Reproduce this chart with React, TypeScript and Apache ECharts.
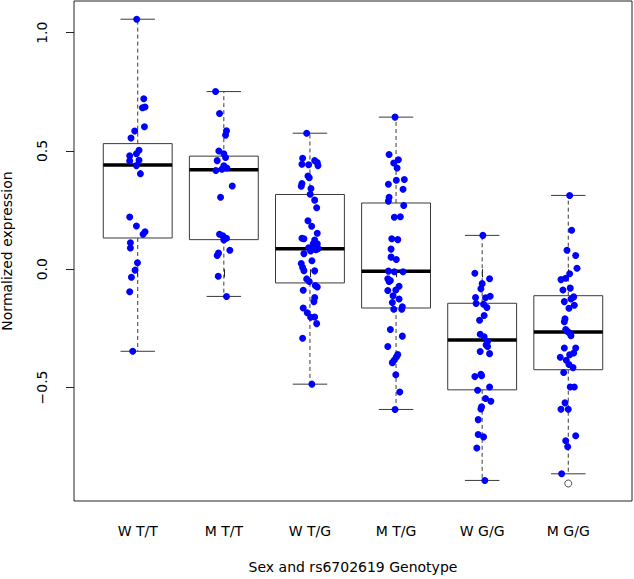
import React, { useEffect, useRef } from "react";
import * as echarts from "echarts";

const categories = ["W T/T", "M T/T", "W T/G", "M T/G", "W G/G", "M G/G"];
const yTicks = [-0.5, 0, 0.5, 1.0];

// box statistics: [lower whisker, Q1, median, Q3, upper whisker]
const boxWTT = [-0.347, 0.132, 0.441, 0.531, 1.057];
const boxMTT = [-0.115, 0.125, 0.42, 0.478, 0.751];
const boxWTG = [-0.486, -0.058, 0.086, 0.316, 0.575];
const boxMTG = [-0.593, -0.164, -0.009, 0.28, 0.643];
const boxWGG = [-0.893, -0.51, -0.299, -0.144, 0.143];
const boxMGG = [-0.865, -0.425, -0.265, -0.112, 0.312];
const outliersMGG = [-0.906];

// individual observations and their horizontal jitter (category units)
const valsWTT = [1.057, 0.721, 0.683, 0.686, 0.602, 0.584, 0.555, 0.503, 0.48, 0.488, 0.458, 0.461, 0.438, 0.404, 0.221, 0.183, 0.148, 0.158, 0.112, 0.09, 0.027, -0.004, -0.034, -0.095, -0.347];
const jitWTT = [-0.012, 0.07, 0.055, 0.085, 0.078, -0.035, -0.078, 0.015, -0.093, -0.015, -0.093, 0.015, -0.015, 0.031, -0.093, -0.015, 0.062, 0.085, -0.085, -0.085, -0.003, -0.031, -0.073, -0.093, -0.058];

const valsMTT = [0.751, 0.658, 0.585, 0.567, 0.5, 0.488, 0.472, 0.459, 0.437, 0.428, 0.423, 0.417, 0.352, 0.304, 0.148, 0.141, 0.131, 0.124, 0.08, 0.068, 0.058, -0.03, -0.115];
const jitMTT = [-0.096, -0.05, 0.031, 0.02, -0.058, 0, 0.02, -0.077, 0, 0.035, -0.023, -0.093, 0.098, -0.038, -0.05, -0.012, 0.031, 0, 0.07, -0.062, -0.077, -0.065, 0.031];

const valsWTG = [0.575, 0.469, 0.459, 0.444, 0.442, 0.451, 0.438, 0.394, 0.387, 0.362, 0.351, 0.341, 0.317, 0.292, 0.26, 0.205, 0.182, 0.152, 0.131, 0.129, 0.123, 0.107, 0.107, 0.097, 0.091, 0.089, 0.087, 0.077, 0.082, 0.066, 0.036, 0.024, 0.007, -0.006, -0.007, -0.041, -0.052, -0.069, -0.075, -0.089, -0.12, -0.137, -0.164, -0.184, -0.203, -0.202, -0.23, -0.292, -0.486];
const jitWTG = [-0.038, -0.085, 0.055, -0.093, -0.015, 0.085, 0.093, -0.023, -0.008, -0.093, -0.101, 0.012, 0.003, 0.055, 0.078, -0.023, 0.02, 0.085, -0.093, -0.07, 0.055, 0.038, 0.085, 0.07, -0.015, 0.023, 0.093, 0.008, 0.07, -0.07, 0.023, -0.101, -0.085, -0.07, 0.055, -0.038, -0.008, 0.062, 0.085, -0.078, 0.055, 0.046, -0.078, -0.031, 0.008, 0.055, 0.078, -0.085, 0.023];

const valsMTG = [0.643, 0.485, 0.463, 0.449, 0.428, 0.379, 0.376, 0.359, 0.338, 0.304, 0.288, 0.269, 0.22, 0.222, 0.129, 0.125, 0.085, 0.051, 0.041, -0.008, -0.011, -0.011, -0.04, -0.052, -0.048, -0.072, -0.088, -0.09, -0.112, -0.126, -0.141, -0.159, -0.169, -0.169, -0.255, -0.283, -0.327, -0.361, -0.371, -0.384, -0.395, -0.446, -0.519, -0.593];
const jitMTG = [-0.012, -0.081, 0.027, -0.027, 0.012, 0.096, 0.003, -0.089, 0.081, -0.081, -0.089, 0.089, -0.02, 0.05, -0.05, 0.02, -0.058, -0.058, 0.003, -0.089, -0.02, 0.081, -0.096, -0.081, -0.066, 0.035, -0.003, -0.096, -0.035, 0.035, -0.043, 0.073, 0.066, -0.027, -0.066, 0.073, -0.096, 0.02, 0.003, -0.02, -0.043, -0.003, 0.043, -0.012];

const valsWGG = [0.143, -0.017, -0.04, -0.061, -0.083, -0.12, -0.114, -0.121, -0.145, -0.148, -0.162, -0.196, -0.216, -0.275, -0.286, -0.306, -0.32, -0.327, -0.348, -0.357, -0.444, -0.454, -0.45, -0.498, -0.512, -0.547, -0.558, -0.582, -0.591, -0.636, -0.699, -0.709, -0.756, -0.893];
const jitWGG = [0.008, -0.085, 0.086, 0, -0.015, -0.077, 0.093, 0.039, -0.07, 0.016, 0.055, 0.023, -0.03, -0.023, 0.023, 0.063, 0.046, 0.063, -0.023, 0.086, -0.015, -0.085, -0.007, 0.086, -0.053, 0.039, 0.101, -0.007, -0.015, -0.046, -0.046, 0.016, -0.062, 0.031];

const valsMGG = [0.312, 0.165, 0.08, 0.058, 0.004, -0.019, -0.038, -0.044, -0.088, -0.08, -0.117, -0.126, -0.137, -0.152, -0.165, -0.21, -0.222, -0.255, -0.264, -0.272, -0.281, -0.333, -0.333, -0.362, -0.354, -0.372, -0.385, -0.403, -0.416, -0.437, -0.498, -0.498, -0.565, -0.592, -0.592, -0.704, -0.725, -0.751, -0.865];
const jitMGG = [0.016, 0.039, -0.015, 0.086, 0.101, 0.016, -0.03, -0.085, -0.062, 0.023, 0.063, 0.031, -0.046, 0.07, 0.008, -0.038, -0.046, -0.03, -0.007, 0.023, 0.031, -0.046, 0.086, 0.016, 0.063, -0.093, -0.023, 0.008, 0.055, -0.053, 0.023, 0.07, -0.038, -0.085, 0, 0.086, -0.03, -0.007, -0.077];

const boxes = [boxWTT, boxMTT, boxWTG, boxMTG, boxWGG, boxMGG];
const groupVals = [valsWTT, valsMTT, valsWTG, valsMTG, valsWGG, valsMGG];
const groupJit = [jitWTT, jitMTT, jitWTG, jitMTG, jitWGG, jitMGG];

const FONT = "DejaVu Sans";
const LINE = "#3a3a3a";

function fmtY(v: number) {
  const s = Math.abs(v).toFixed(1);
  return v < 0 ? "\u2212" + s : s;
}

export default function App() {
  const ref = useRef<HTMLDivElement>(null);
  useEffect(() => {
    if (!ref.current) return;
    const chart = echarts.init(ref.current, null, { renderer: "svg" });

    const boxData = boxes.map((b, i) => [i + 1, ...b]);
    const pointData: number[][] = [];
    groupVals.forEach((vals, gi) => {
      vals.forEach((v, k) => pointData.push([gi + 1 + groupJit[gi][k], v]));
    });
    const outlierData = outliersMGG.map((v) => [6, v]);

    const option: any = {
      animation: false,
      backgroundColor: "#ffffff",
      textStyle: { fontFamily: FONT },
      grid: {
        left: 74,
        right: 2,
        top: 1,
        bottom: 78,
        outerBoundsMode: "none",
        containLabel: false,
        show: true,
        borderColor: "#222",
        borderWidth: 1,
        backgroundColor: "transparent",
      },
      xAxis: {
        type: "value",
        min: 0.26,
        max: 6.74,
        axisLine: { show: false },
        splitLine: { show: false },
        axisTick: {
          show: true,
          customValues: [1, 2, 3, 4, 5, 6],
          length: 8,
          lineStyle: { color: "#222" },
        },
        axisLabel: {
          customValues: [1, 2, 3, 4, 5, 6],
          formatter: (v: number) => categories[Math.round(v) - 1],
          fontSize: 14,
          fontFamily: FONT,
          color: "#000",
          margin: 23,
        },
        name: "Sex and rs6702619 Genotype",
        nameLocation: "middle",
        nameGap: 59,
        nameTextStyle: { fontSize: 14, color: "#000", fontFamily: FONT },
      },
      yAxis: {
        type: "value",
        min: -0.98,
        max: 1.134,
        axisLine: { show: false },
        splitLine: { show: false },
        axisTick: {
          show: true,
          customValues: yTicks,
          length: 8,
          lineStyle: { color: "#222" },
        },
        axisLabel: {
          customValues: yTicks,
          formatter: fmtY,
          rotate: 90,
          fontSize: 14,
          fontFamily: FONT,
          color: "#000",
          margin: 25,
        },
        name: "Normalized expression",
        nameLocation: "middle",
        nameRotate: 90,
        nameGap: 60,
        nameTextStyle: { fontSize: 14, color: "#000", fontFamily: FONT },
      },
      series: [
        {
          type: "custom",
          z: 2,
          data: boxData,
          encode: { x: 0, y: [1, 2, 3, 4, 5] },
          renderItem: (params: any, api: any) => {
            const x = api.value(0);
            const half = api.size([0.4, 0])[0];
            const st = half / 2;
            const pMin = api.coord([x, api.value(1)]);
            const pQ1 = api.coord([x, api.value(2)]);
            const pMed = api.coord([x, api.value(3)]);
            const pQ3 = api.coord([x, api.value(4)]);
            const pMax = api.coord([x, api.value(5)]);
            const cx = pMed[0];
            const dash = { stroke: LINE, lineWidth: 1, lineDash: [4, 3] };
            const solid = { stroke: LINE, lineWidth: 1 };
            return {
              type: "group",
              children: [
                { type: "line", shape: { x1: cx, y1: pQ3[1], x2: cx, y2: pMax[1] }, style: dash },
                { type: "line", shape: { x1: cx, y1: pQ1[1], x2: cx, y2: pMin[1] }, style: dash },
                { type: "line", shape: { x1: cx - st, y1: pMax[1], x2: cx + st, y2: pMax[1] }, style: solid },
                { type: "line", shape: { x1: cx - st, y1: pMin[1], x2: cx + st, y2: pMin[1] }, style: solid },
                {
                  type: "rect",
                  shape: { x: cx - half, y: pQ3[1], width: half * 2, height: pQ1[1] - pQ3[1] },
                  style: { fill: "none", stroke: LINE, lineWidth: 1 },
                },
                {
                  type: "line",
                  shape: { x1: cx - half, y1: pMed[1], x2: cx + half, y2: pMed[1] },
                  style: { stroke: "#000", lineWidth: 3.5 },
                },
              ],
            };
          },
        },
        {
          type: "scatter",
          z: 3,
          data: outlierData,
          symbol: "circle",
          symbolSize: 7,
          itemStyle: { color: "rgba(0,0,0,0)", borderColor: "#222", borderWidth: 1 },
        },
        {
          type: "scatter",
          z: 4,
          data: pointData,
          symbol: "circle",
          symbolSize: 7,
          itemStyle: { color: "#0000ff", opacity: 1 },
        },
      ],
    };
    chart.setOption(option);
    return () => chart.dispose();
  }, []);

  return (
    <div
      ref={ref}
      style={{ position: "fixed", left: 0, top: 0, width: 634, height: 579, background: "#fff" }}
    />
  );
}
